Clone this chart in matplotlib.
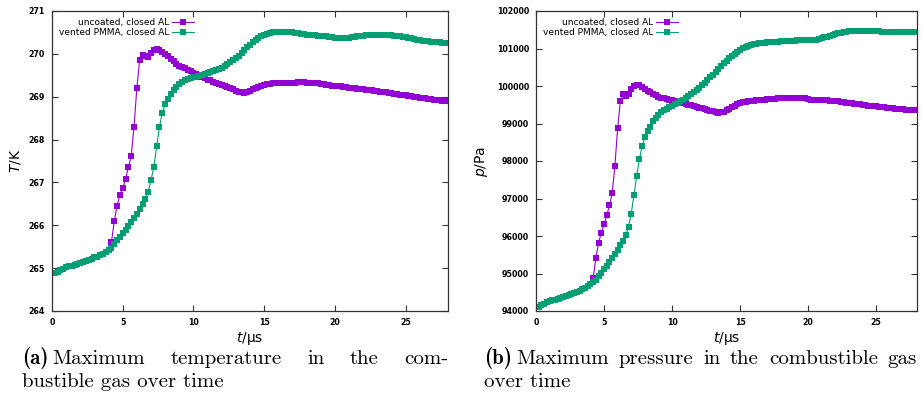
import numpy as np
import matplotlib
matplotlib.use("Agg")
import matplotlib.pyplot as plt

# time axis, sampled every 0.2 us
t_us = np.round(np.arange(0, 141) * 0.2, 1)

# shared early part (0 .. 4.0 us), both cases identical there
T_early = [264.88, 264.89, 264.92, 264.96, 264.99, 265.02, 265.04, 265.06, 265.08, 265.10,
           265.12, 265.15, 265.17, 265.20, 265.22, 265.25, 265.27, 265.30, 265.33, 265.37,
           265.42]
p_early = [94110, 94115, 94150, 94200, 94240, 94265, 94285, 94305, 94325, 94350,
           94375, 94400, 94425, 94450, 94480, 94510, 94545, 94580, 94620, 94670,
           94720]

# maximum temperature, uncoated (4.2 .. 28.0 us)
T_uncoated_late = [
    265.60, 266.09, 266.46, 266.70, 266.87, 267.08, 267.35, 267.62, 268.30, 269.21,
    269.86, 269.98, 269.94, 269.93, 270.02, 270.10, 270.11, 270.08, 270.04, 269.99,
    269.94, 269.89, 269.83, 269.77, 269.72, 269.69, 269.66, 269.62, 269.59, 269.56,
    269.52, 269.49, 269.46, 269.43, 269.40, 269.38, 269.35, 269.33, 269.30, 269.28,
    269.26, 269.23, 269.20, 269.17, 269.14, 269.12, 269.10, 269.09, 269.10, 269.13,
    269.17, 269.20, 269.23, 269.25, 269.27, 269.29, 269.30, 269.31, 269.31, 269.32,
    269.32, 269.32, 269.33, 269.33, 269.33, 269.33, 269.34, 269.34, 269.34, 269.33,
    269.33, 269.32, 269.32, 269.31, 269.30, 269.29, 269.28, 269.27, 269.26, 269.25,
    269.24, 269.24, 269.23, 269.22, 269.21, 269.20, 269.20, 269.19, 269.18, 269.17,
    269.16, 269.15, 269.15, 269.14, 269.13, 269.12, 269.11, 269.10, 269.09, 269.08,
    269.07, 269.06, 269.05, 269.04, 269.03, 269.02, 269.01, 269.00, 268.99, 268.98,
    268.97, 268.96, 268.95, 268.94, 268.93, 268.92, 268.92, 268.91, 268.90, 268.90]

# maximum temperature, vented PMMA (4.2 .. 28.0 us)
T_vented_late = [
    265.48, 265.56, 265.65, 265.73, 265.81, 265.90, 265.98, 266.07, 266.16, 266.27,
    266.38, 266.49, 266.62, 266.78, 267.05, 267.36, 267.84, 268.30, 268.63, 268.82,
    268.95, 269.06, 269.15, 269.23, 269.29, 269.34, 269.38, 269.41, 269.43, 269.45,
    269.47, 269.49, 269.51, 269.53, 269.55, 269.57, 269.60, 269.62, 269.65, 269.68,
    269.72, 269.76, 269.80, 269.85, 269.90, 269.96, 270.02, 270.09, 270.15, 270.21,
    270.27, 270.33, 270.38, 270.42, 270.45, 270.47, 270.49, 270.50, 270.51, 270.51,
    270.51, 270.51, 270.51, 270.50, 270.50, 270.49, 270.48, 270.47, 270.46, 270.45,
    270.44, 270.43, 270.43, 270.42, 270.42, 270.41, 270.41, 270.40, 270.39, 270.38,
    270.38, 270.38, 270.38, 270.38, 270.38, 270.39, 270.40, 270.41, 270.42, 270.42,
    270.43, 270.43, 270.44, 270.44, 270.45, 270.45, 270.44, 270.44, 270.43, 270.43,
    270.42, 270.42, 270.41, 270.40, 270.39, 270.38, 270.36, 270.35, 270.33, 270.32,
    270.31, 270.30, 270.29, 270.28, 270.28, 270.27, 270.27, 270.26, 270.26, 270.26]

# maximum pressure, uncoated (4.2 .. 28.0 us)
p_uncoated_late = [
    94870, 95420, 95820, 96090, 96310, 96550, 96820, 97140, 97880, 98870,
    99600, 99780, 99730, 99790, 99910, 100000, 100030, 100020, 99980, 99930,
    99880, 99830, 99790, 99750, 99720, 99690, 99670, 99645, 99630, 99620,
    99600, 99585, 99565, 99545, 99525, 99505, 99485, 99465, 99445, 99425,
    99405, 99385, 99365, 99345, 99325, 99305, 99290, 99295, 99320, 99350,
    99390, 99430, 99470, 99510, 99540, 99570, 99580, 99590, 99600, 99610,
    99620, 99630, 99640, 99640, 99650, 99650, 99660, 99660, 99670, 99670,
    99670, 99670, 99670, 99670, 99670, 99670, 99670, 99670, 99670, 99660,
    99640, 99630, 99630, 99630, 99630, 99620, 99620, 99610, 99600, 99600,
    99590, 99580, 99570, 99560, 99550, 99540, 99530, 99520, 99510, 99500,
    99490, 99480, 99470, 99470, 99460, 99450, 99440, 99430, 99420, 99420,
    99410, 99400, 99400, 99390, 99380, 99370, 99370, 99360, 99350, 99350]

# maximum pressure, vented PMMA (4.2 .. 28.0 us)
p_vented_late = [
    94770, 94840, 94930, 95010, 95110, 95210, 95310, 95410, 95520, 95630,
    95750, 95880, 96030, 96240, 96600, 97100, 97600, 98050, 98400, 98640,
    98790, 98920, 99060, 99160, 99240, 99300, 99350, 99400, 99440, 99470,
    99510, 99560, 99600, 99640, 99690, 99740, 99790, 99840, 99900, 99960,
    100020, 100090, 100160, 100230, 100300, 100380, 100460, 100540, 100610, 100680,
    100740, 100800, 100860, 100920, 100970, 101010, 101050, 101080, 101100, 101120,
    101130, 101140, 101150, 101160, 101165, 101170, 101175, 101180, 101185, 101190,
    101195, 101200, 101200, 101205, 101210, 101215, 101220, 101225, 101225, 101220,
    101215, 101215, 101230, 101260, 101280, 101300, 101320, 101345, 101370, 101390,
    101410, 101425, 101440, 101450, 101455, 101460, 101465, 101465, 101465, 101465,
    101465, 101465, 101465, 101465, 101460, 101455, 101450, 101445, 101445, 101445,
    101445, 101445, 101445, 101445, 101445, 101445, 101445, 101445, 101445, 101445]

labels = ["uncoated, closed AL", "vented PMMA, closed AL"]
colors = ["#9400d3", "#009e73"]

cap_a = ["Maximum temperature in the com-", "bustible gas over time"]
cap_b = ["Maximum pressure in the combustible gas", "over time"]

T_uncoated = T_early + T_uncoated_late
T_vented = T_early + T_vented_late
p_uncoated = p_early + p_uncoated_late
p_vented = p_early + p_vented_late

W, H = 922, 401


def style_axes(ax, ylim, yticks):
    ax.set_xlim(0, 28)
    ax.set_ylim(*ylim)
    ax.set_xticks([0, 5, 10, 15, 20, 25])
    ax.set_yticks(yticks)
    ax.tick_params(direction="in", length=4, width=0.8, labelsize=5.7,
                   top=True, right=True, pad=5, colors="#333333", labelcolor="black")
    for s in ax.spines.values():
        s.set_color("#333333")
        s.set_linewidth(0.9)
    for lab in ax.get_xticklabels() + ax.get_yticklabels():
        lab.set_fontweight("bold")


def draw(ax, y1, y2):
    for y, lab, c in zip([y1, y2], labels, colors):
        ax.plot(t_us, y, "-", color=c, lw=0.8, marker="s", ms=3.8, mew=0,
                label=lab)
    ax.legend(loc="upper left", bbox_to_anchor=(0.0, 1.0), frameon=False,
              markerfirst=False, fontsize=6.5, handlelength=2.4,
              labelspacing=0.12, handletextpad=0.3, borderaxespad=0.35,
              numpoints=1)


fig = plt.figure(figsize=(W / 100, H / 100), dpi=100)

axL = fig.add_axes([52 / W, 1 - 311 / H, 396 / W, 300 / H])
draw(axL, T_uncoated, T_vented)
style_axes(axL, (264, 271), range(264, 272))
axL.set_xlabel(r"$t$/μs", fontsize=10, labelpad=2)
axL.set_ylabel(r"$T$/K", fontsize=10, labelpad=4)

axR = fig.add_axes([536 / W, 1 - 311 / H, 381 / W, 300 / H])
draw(axR, p_uncoated, p_vented)
style_axes(axR, (94000, 102000), range(94000, 102001, 1000))
axR.set_xlabel(r"$t$/μs", fontsize=10, labelpad=2)
axR.set_ylabel(r"$p$/Pa", fontsize=10, labelpad=5)

# sub-figure captions, first line justified like in the paper
cap_size = 15
renderer = fig.canvas.get_renderer()


def caption(tag, lines, x0, x1, y1, y2):
    tag_t = fig.text(x0 / W, 1 - y1 / H, tag, family="cmb10", fontsize=cap_size,
                     va="baseline")
    tag_w = tag_t.get_window_extent(renderer).width
    start = x0 + tag_w + 4
    words = lines[0].split()
    arts = [fig.text(0, 1 - y1 / H, w, family="cmr10", fontsize=cap_size,
                     va="baseline") for w in words]
    widths = [a.get_window_extent(renderer).width for a in arts]
    gap = (x1 - start - sum(widths)) / (len(words) - 1)
    x = start
    for a, w in zip(arts, widths):
        a.set_x(x / W)
        x += w + gap
    fig.text(x0 / W, 1 - y2 / H, lines[1], family="cmr10", fontsize=cap_size,
             va="baseline")


caption("(a)", cap_a, 22, 448, 364, 387)
caption("(b)", cap_b, 484, 917, 364, 387)

fig.savefig("out.png", dpi=100)
